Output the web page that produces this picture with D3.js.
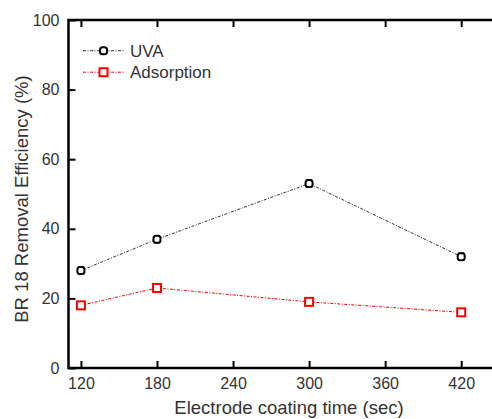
<!DOCTYPE html>
<html>
<head>
<meta charset="utf-8">
<script src="https://cdn.jsdelivr.net/npm/d3@7"></script>
<style>
  html, body { margin: 0; padding: 0; background: #fff; }
  svg { display: block; font-family: "Liberation Sans", Arial, sans-serif; }
</style>
</head>
<body>
<svg id="chart" width="492" height="419"></svg>
<script>
// Coating time (sec) and removal efficiency (%) for each treatment
const coatingTimes = [120, 180, 300, 420];
const uvaValues = [28, 37, 53, 32];
const uvaErrors = [1, 1, 1, 1];
const adsorptionValues = [18, 23, 19, 16];
const adsorptionErrors = [0.5, 0.5, 0.5, 0.5];
const xTickValues = [120, 180, 240, 300, 360, 420];
const yTickValues = [0, 20, 40, 60, 80, 100];
const seriesNames = ["UVA", "Adsorption"];

const svg = d3.select("#chart");
const plotLeft = 68.5, plotTop = 20, plotBottom = 368, plotRight = 510;

const x = d3.scaleLinear().domain([110.2, 458.5]).range([plotLeft, plotRight]);
const y = d3.scaleLinear().domain([0, 100]).range([plotBottom, plotTop]);

const textColor = "#333";
const fontFamily = "Liberation Sans, Arial, sans-serif";

// Frame
svg.append("path")
  .attr("d", `M${plotRight},${plotTop}H${plotLeft}V${plotBottom}H${plotRight}`)
  .attr("fill", "none").attr("stroke", "#000").attr("stroke-width", 2.5);

// Bottom axis: inward ticks, labels below
const xAxis = svg.append("g").attr("transform", `translate(0,${plotBottom})`)
  .call(d3.axisBottom(x).tickValues(xTickValues).tickSizeInner(-7).tickSizeOuter(0).tickPadding(10));
xAxis.select(".domain").remove();
xAxis.selectAll("line").attr("stroke", "#000").attr("stroke-width", 2);
xAxis.selectAll("text").attr("font-size", 16).attr("fill", textColor).attr("font-family", fontFamily);

// Top axis ticks (no labels)
const xTop = svg.append("g").attr("transform", `translate(0,${plotTop})`)
  .call(d3.axisTop(x).tickValues(xTickValues).tickSizeInner(-7).tickSizeOuter(0).tickFormat(""));
xTop.select(".domain").remove();
xTop.selectAll("line").attr("stroke", "#000").attr("stroke-width", 2);

// Left axis
const yAxis = svg.append("g").attr("transform", `translate(${plotLeft},0)`)
  .call(d3.axisLeft(y).tickValues(yTickValues).tickSizeInner(-7).tickSizeOuter(0).tickPadding(9));
yAxis.select(".domain").remove();
yAxis.selectAll("line").attr("stroke", "#000").attr("stroke-width", 2);
yAxis.selectAll("text").attr("font-size", 16).attr("fill", textColor).attr("font-family", fontFamily);

// Axis titles
svg.append("text")
  .attr("x", 289).attr("y", 414)
  .attr("text-anchor", "middle").attr("font-size", 18.5).attr("fill", textColor)
  .text("Electrode coating time (sec)");
svg.append("text")
  .attr("transform", `translate(28,199) rotate(-90)`)
  .attr("text-anchor", "middle").attr("font-size", 18.5).attr("fill", textColor)
  .text("BR 18 Removal Efficiency (%)");

const series = [
  { name: seriesNames[0], values: uvaValues, errors: uvaErrors, color: "#000", lineColor: "#333", shape: "circle" },
  { name: seriesNames[1], values: adsorptionValues, errors: adsorptionErrors, color: "#f00", lineColor: "#f00", shape: "square" }
];

const line = d3.line().x(d => x(d[0])).y(d => y(d[1]));

function drawMarker(g, cx, cy, s) {
  if (s.shape === "circle") {
    g.append("rect").attr("x", cx - 3.5).attr("y", cy - 3.5).attr("width", 7).attr("height", 7)
      .attr("rx", 2.5).attr("fill", "#fff").attr("stroke", s.color).attr("stroke-width", 2);
  } else {
    g.append("rect").attr("x", cx - 4).attr("y", cy - 4).attr("width", 8).attr("height", 8)
      .attr("fill", "#fff").attr("stroke", s.color).attr("stroke-width", 2);
  }
}

series.forEach(s => {
  const pts = coatingTimes.map((t, i) => [t, s.values[i]]);
  svg.append("path").datum(pts).attr("d", line)
    .attr("fill", "none").attr("stroke", s.lineColor).attr("stroke-width", 1)
    .attr("stroke-dasharray", "3,1.5,1,1.5");
  const g = svg.append("g");
  pts.forEach((p, i) => {
    const cx = x(p[0]);
    const e = s.errors[i];
    g.append("line").attr("x1", cx).attr("x2", cx)
      .attr("y1", y(p[1] - e)).attr("y2", y(p[1] + e))
      .attr("stroke", s.color).attr("stroke-width", 1.5);
    [p[1] - e, p[1] + e].forEach(v => {
      g.append("line").attr("x1", cx - 3).attr("x2", cx + 3)
        .attr("y1", y(v)).attr("y2", y(v))
        .attr("stroke", s.color).attr("stroke-width", 1.5);
    });
    drawMarker(g, cx, y(p[1]), s);
  });
});

// Legend
const legend = svg.append("g");
series.forEach((s, i) => {
  const ly = 50.7 + i * 21.5;
  legend.append("line").attr("x1", 83).attr("x2", 124).attr("y1", ly).attr("y2", ly)
    .attr("stroke", s.lineColor).attr("stroke-width", 1).attr("stroke-dasharray", "3,1.5,1,1.5");
  drawMarker(legend, 103.5, ly, s);
  legend.append("text").attr("x", 130).attr("y", ly + 5.8)
    .attr("font-size", 17).attr("fill", textColor).text(s.name);
});
</script>
</body>
</html>
